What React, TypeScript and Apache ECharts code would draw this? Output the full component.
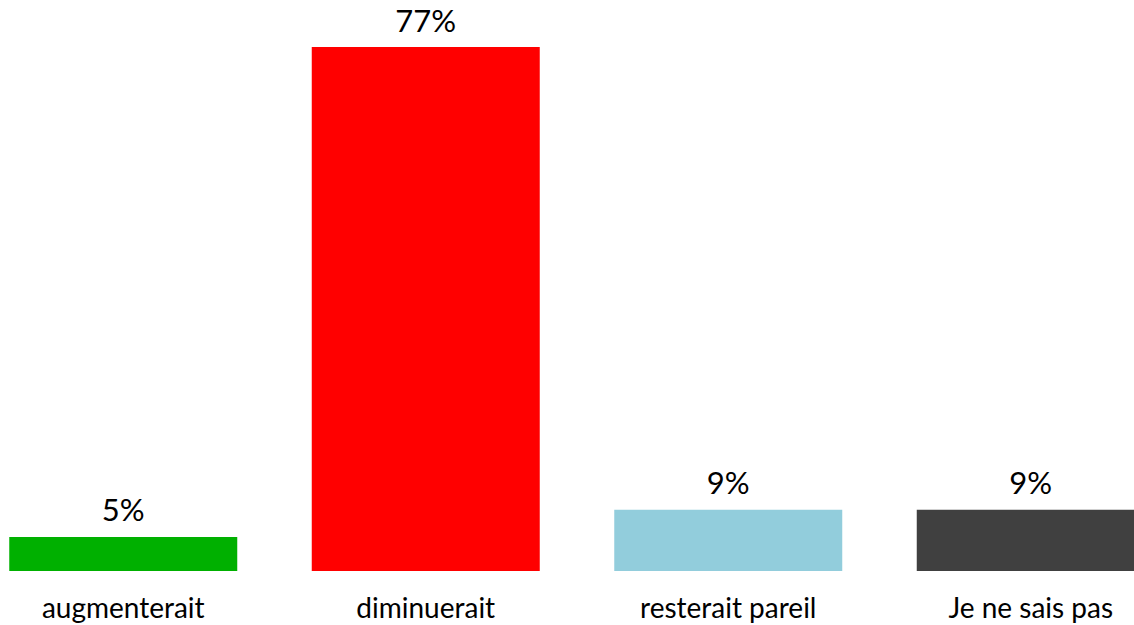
import React, { useEffect, useRef } from "react";
import * as echarts from "echarts";

const categories = ["augmenterait", "diminuerait", "resterait pareil", "Je ne sais pas"];
const values = [5, 77, 9, 9];
const colors = ["#00B000", "#FF0000", "#92CDDC", "#404040"];

export default function App() {
  const ref = useRef<HTMLDivElement>(null);
  useEffect(() => {
    document.body.style.overflow = "hidden";
    const chart = echarts.init(ref.current!, null, { renderer: "svg" });
    chart.setOption({
      animation: false,
      grid: { left: 0, right: 0, top: 47, bottom: 54, containLabel: false },
      xAxis: {
        type: "category",
        data: categories,
        axisLine: { show: false },
        axisTick: { show: false },
        axisLabel: {
          color: "#000",
          fontSize: 28,
          fontFamily: "Lato",
          margin: 22,
          interval: 0,
        },
      },
      yAxis: { type: "value", min: 0, max: 77, show: false, splitLine: { show: false } },
      series: [
        {
          type: "bar",
          barWidth: 228,
          data: values.map((v, i) => ({ value: v, itemStyle: { color: colors[i] } })),
          label: {
            show: true,
            position: "top",
            distance: 12,
            formatter: "{c}%",
            color: "#000",
            fontSize: 31,
            fontFamily: "Lato",
          },
        },
      ],
    });
    return () => chart.dispose();
  }, []);
  return (
    <div style={{ position: "absolute", left: 0, top: 0, width: 1134, height: 625, overflow: "hidden", background: "#fff" }}>
      <div ref={ref} style={{ position: "absolute", left: -28, top: 0, width: 1210, height: 625 }} />
    </div>
  );
}
